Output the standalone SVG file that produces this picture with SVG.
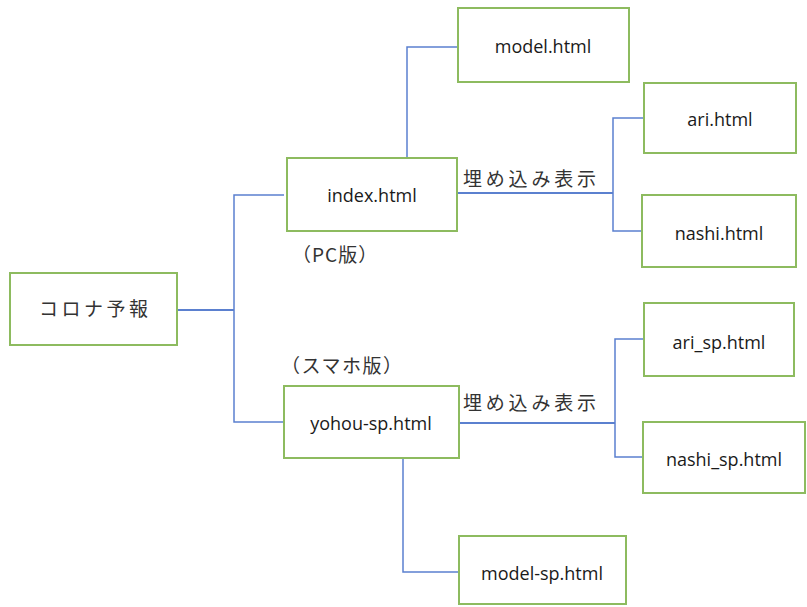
<svg xmlns="http://www.w3.org/2000/svg" width="807" height="607" viewBox="0 0 807 607">
<style>
.box{fill:#fff;stroke:#8dbb5f;stroke-width:2}
.t{font-family:"Open Sans","Noto Sans CJK JP",sans-serif;font-size:18px;fill:#1a1a1a;text-anchor:middle;dominant-baseline:central}
.jp{font-family:"Noto Sans CJK JP",sans-serif;font-size:19px;fill:#333;letter-spacing:3px}
.ln{fill:none;stroke:#5b80cf;stroke-width:2}
.ln2{fill:none;stroke:#5b80cf;stroke-width:1.5}
</style>
<rect width="807" height="607" fill="#fff"/>
<g id="connectors">
<path class="ln" d="M177,310 H234"/>
<path class="ln2" d="M284,195 H234 V422 H284"/>
<path class="ln" d="M457,193 H613"/>
<path class="ln2" d="M644,118 H613 V231 H643"/>
<path class="ln2" d="M407,158 V47 H458"/>
<path class="ln" d="M459,423 H615"/>
<path class="ln2" d="M644,339 H615 V457 H643"/>
<path class="ln2" d="M403,458 V572 H459"/>
</g>
<g id="n-corona"><rect class="box" x="10" y="273" width="167" height="72"/><text class="jp" x="39" y="316" style="letter-spacing:3.5px">コロナ予報</text></g>
<g id="n-index"><rect class="box" x="287" y="158" width="170" height="73"/><text class="t" x="372" y="195">index.html</text></g>
<g id="n-model"><rect class="box" x="458" y="8" width="171" height="74"/><text class="t" x="543" y="46">model.html</text></g>
<g id="n-ari"><rect class="box" x="644" y="83" width="152" height="70"/><text class="t" x="720" y="119">ari.html</text></g>
<g id="n-nashi"><rect class="box" x="642" y="195" width="154" height="72"/><text class="t" x="719" y="233">nashi.html</text></g>
<g id="n-yohou"><rect class="box" x="284" y="386" width="175" height="72"/><text class="t" x="371" y="423">yohou-sp.html</text></g>
<g id="n-arisp"><rect class="box" x="644" y="303" width="150" height="73"/><text class="t" x="719" y="342">ari_sp.html</text></g>
<g id="n-nashisp"><rect class="box" x="643" y="422" width="162" height="71"/><text class="t" x="724" y="459">nashi_sp.html</text></g>
<g id="n-modelsp"><rect class="box" x="459" y="536" width="167" height="68"/><text class="t" x="542" y="573">model-sp.html</text></g>
<g id="labels">
<text class="jp" x="463" y="186" style="letter-spacing:3.8px">埋め込み表示</text>
<text class="jp" x="463" y="410" style="letter-spacing:3.8px">埋め込み表示</text>
<text class="jp" x="292" y="262" style="letter-spacing:1px">（PC版）</text>
<text class="jp" x="281" y="373" style="letter-spacing:1.5px">（スマホ版）</text>
</g>
</svg>
